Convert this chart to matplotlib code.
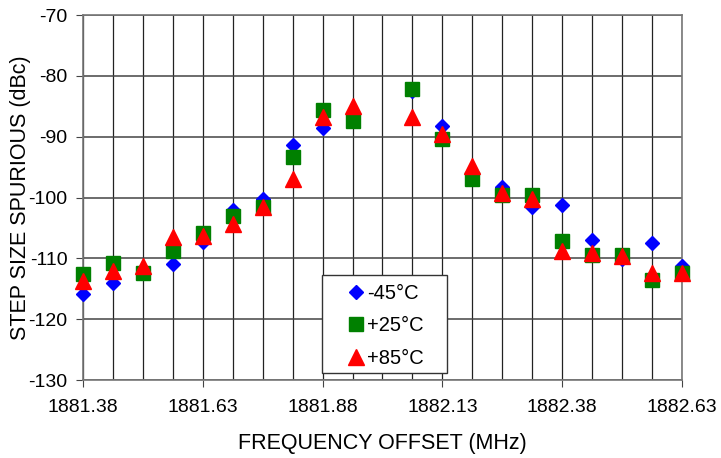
import numpy as np
import matplotlib
matplotlib.use("Agg")
import matplotlib.pyplot as plt
from matplotlib.patches import Rectangle

plt.rcParams["font.family"] = ["Liberation Sans", "DejaVu Sans"]
plt.rcParams["axes.unicode_minus"] = False

# frequency points (MHz), one every 62.5 kHz, 1882.00 not measured
freq = [1881.3800, 1881.4425, 1881.5050, 1881.5675, 1881.6300, 1881.6925,
        1881.7550, 1881.8175, 1881.8800, 1881.9425, 1882.0675, 1882.1300,
        1882.1925, 1882.2550, 1882.3175, 1882.3800, 1882.4425, 1882.5050,
        1882.5675, 1882.6300]
t_m45 = [-115.8, -114.1, -112.0, -110.9, -107.3, -102.0, -100.3, -91.4, -88.5, -87.0,
         -82.5, -88.3, -96.5, -98.2, -101.5, -101.2, -107.0, -110.1, -107.4, -111.3]
t_p25 = [-112.6, -110.8, -112.4, -108.8, -105.8, -103.0, -101.6, -93.4, -85.6, -87.5,
         -82.1, -90.3, -96.9, -99.6, -99.6, -107.1, -109.4, -109.4, -113.6, -112.4]
t_p85 = [-113.7, -112.0, -111.3, -106.5, -106.3, -104.3, -101.5, -96.9, -86.7, -85.0,
         -86.7, -89.6, -94.8, -99.3, -100.2, -108.8, -109.1, -109.6, -112.4, -112.4]
labels = ["-45°C", "+25°C", "+85°C"]

fig = plt.figure(figsize=(7.21, 4.58), dpi=100)
ax = fig.add_axes([0.1151, 0.1703, 0.8308, 0.7969])

ax.plot(freq, t_m45, "D", color="#0000ff", ms=7.5, mec="#0000ff", label=labels[0], zorder=3, clip_on=False)
ax.plot(freq, t_p25, "s", color="#008000", ms=10, mec="#008000", label=labels[1], zorder=4, clip_on=False)
ax.plot(freq, t_p85, "^", color="#ff0000", ms=11, mec="#ff0000", label=labels[2], zorder=5, clip_on=False)

ax.set_xlim(1881.38, 1882.63)
ax.set_ylim(-130, -70)
ax.set_xticks(np.arange(1881.38, 1882.64, 0.25))
ax.set_xticklabels(["%.2f" % v for v in np.arange(1881.38, 1882.64, 0.25)])
ax.set_xticks(np.arange(1881.38, 1882.64, 0.0625), minor=True)
ax.set_yticks(np.arange(-130, -69, 10))
ax.tick_params(axis="x", which="minor", length=0)
ax.tick_params(axis="both", which="major", labelsize=14, length=5, color="#444444")
ax.tick_params(axis="x", which="major", pad=9)
ax.tick_params(axis="y", which="major", pad=6)
ax.grid(True, which="both", axis="x", color="#222222", lw=0.9)
ax.grid(True, which="major", axis="y", color="#444444", lw=1.1)
ax.set_axisbelow(True)
for s in ax.spines.values():
    s.set_color("#777777")
    s.set_linewidth(1.2)

ax.set_xlabel("FREQUENCY OFFSET (MHz)", fontsize=15.5)
ax.xaxis.set_label_coords(0.5, -0.145)
ax.set_ylabel("STEP SIZE SPURIOUS (dBc)", fontsize=15.5)
ax.yaxis.set_label_coords(-0.087, 0.5)

# legend box drawn separately
box = Rectangle((0.399, 0.019), 0.209, 0.268, transform=ax.transAxes, facecolor="white",
                edgecolor="#333333", lw=1.0, zorder=9, clip_on=False)
ax.add_patch(box)
leg = ax.legend(loc="center left", bbox_to_anchor=(0.439, 0.148), frameon=False,
                fontsize=14.5, handlelength=1.0, handletextpad=0.05, labelspacing=0.68,
                borderpad=0, borderaxespad=0)
leg.set_zorder(10)

fig.savefig("out.png", dpi=100)
